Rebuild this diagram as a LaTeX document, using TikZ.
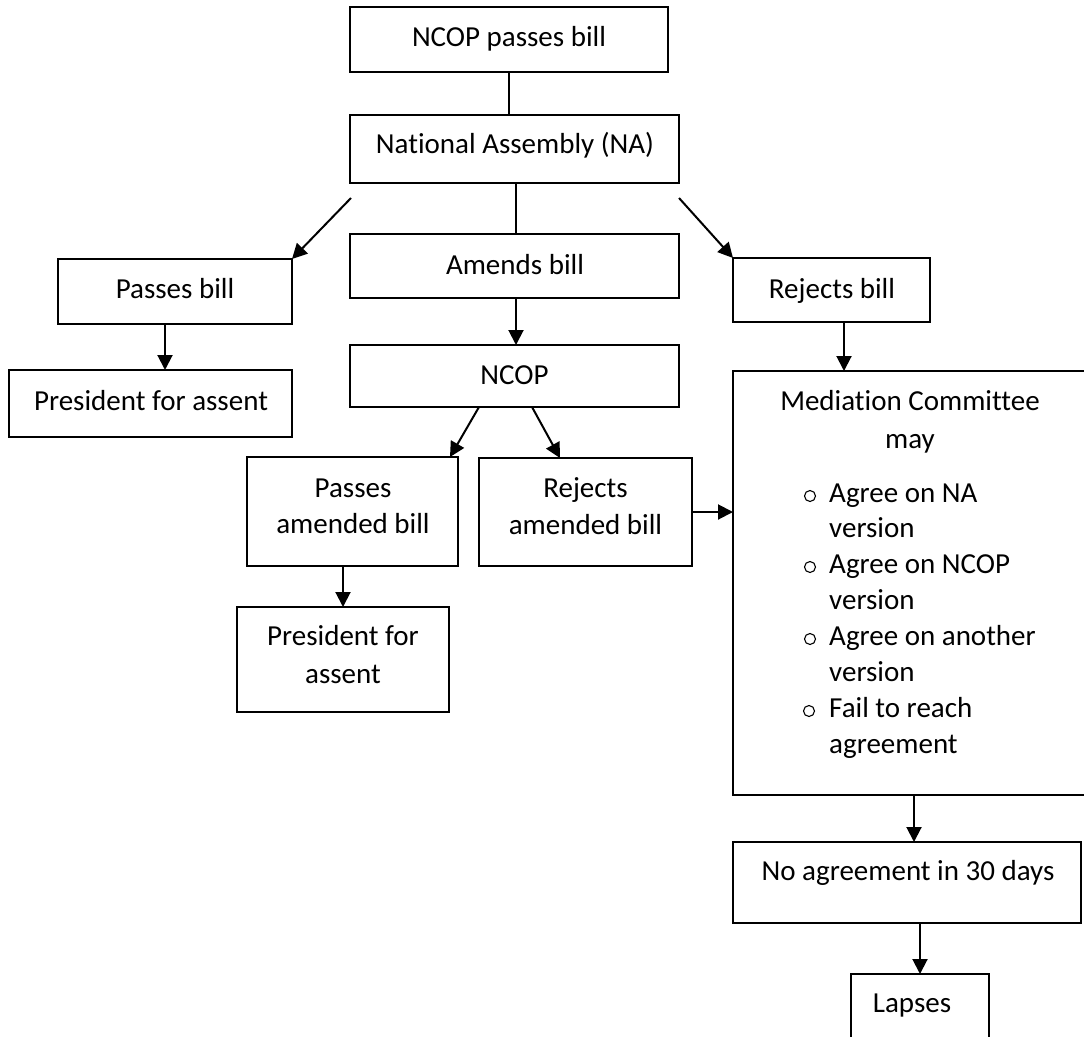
\documentclass[tikz,border=0pt]{standalone}
\usepackage{fontspec}
\setmainfont{Carlito}[Ligatures=NoCommon]
\usetikzlibrary{arrows.meta,calc}
\begin{document}
\begin{tikzpicture}[x=1pt,y=-1pt,
  box/.style={draw,line width=2pt,inner sep=0pt,outer sep=0pt,rectangle},
  txt/.style={inner sep=0pt,anchor=base,font=\fontsize{29}{36}\selectfont},
  ltxt/.style={txt,anchor=base west},
  conn/.style={line width=2pt},
  arr/.style={conn,-{Triangle[length=15pt,width=15pt]}},
  bul/.style={circle,draw,line width=1.1pt,minimum size=11pt,inner sep=0pt}]
\useasboundingbox (0,0) rectangle (1084,1036);
% boxes
\node[box,minimum width=318pt,minimum height=65pt] (top) at (509,39.5) {};
\node[box,minimum width=329pt,minimum height=68pt] (na) at (514.5,149) {};
\node[box,minimum width=329pt,minimum height=64pt] (amends) at (514.5,266) {};
\node[box,minimum width=234pt,minimum height=65pt] (passes) at (175,291.5) {};
\node[box,minimum width=283pt,minimum height=67pt] (pres1) at (150.5,403.5) {};
\node[box,minimum width=197pt,minimum height=64pt] (rejects) at (831.5,290) {};
\node[box,minimum width=329pt,minimum height=62pt] (ncop) at (514.5,376) {};
\node[box,minimum width=211pt,minimum height=109pt] (pab) at (352.5,511.5) {};
\node[box,minimum width=213pt,minimum height=108pt] (rab) at (585.5,512) {};
\node[box,minimum width=212pt,minimum height=105pt] (pres2) at (343,659.5) {};
\node[box,minimum width=362pt,minimum height=424pt] (med) at (914,583) {};
\node[box,minimum width=348pt,minimum height=81pt] (noagr) at (907,882.5) {};
\node[box,minimum width=138pt,minimum height=76pt] (lapses) at (920,1012) {};
% texts
\node[txt] (topT) at (509,46.7) {NCOP passes bill};
\node[txt] (naT) at (515,153) {National Assembly (NA)};
\node[txt] (amendsT) at (515,274) {Amends bill};
\node[txt] (passesT) at (175,298) {Passes bill};
\node[txt] (pres1T) at (151,410) {President for assent};
\node[txt] (rejectsT) at (832,298) {Rejects bill};
\node[txt] (ncopT) at (514.5,384) {NCOP};
\node[txt] (pabT1) at (353,497) {Passes};
\node[txt] (pabT2) at (353,533) {amended bill};
\node[txt] (rabT1) at (585.5,497) {Rejects};
\node[txt] (rabT2) at (585.5,534) {amended bill};
\node[txt] (pres2T1) at (343,645) {President for};
\node[txt] (pres2T2) at (343,683) {assent};
\node[txt] (medT1) at (910,410) {Mediation Committee};
\node[txt] (medT2) at (910,448) {may};
\node[bul] (b1) at (810,496) {};
\node[ltxt] (l1) at (829,502) {Agree on NA};
\node[ltxt] (l2) at (829,537) {version};
\node[bul] (b2) at (810,567) {};
\node[ltxt] (l3) at (829,573) {Agree on NCOP};
\node[ltxt] (l4) at (829,609) {version};
\node[bul] (b3) at (810,639) {};
\node[ltxt] (l5) at (829,645) {Agree on another};
\node[ltxt] (l6) at (829,681) {version};
\node[bul] (b4) at (809,711) {};
\node[ltxt] (l7) at (829,717) {Fail to reach};
\node[ltxt] (l8) at (829,753) {agreement};
\node[txt] (noagrT) at (908,880) {No agreement in 30 days};
\node[txt] (lapsesT) at (912,1012) {Lapses};
% connector end points
\coordinate (naL) at ($(na.south west)+(1,15)$);
\coordinate (naR) at ($(na.south east)+(0,15)$);
\coordinate (naS) at ($(na.south)+(1.5,0)$);
\coordinate (amS) at ($(amends.south)+(1.5,0)$);
\coordinate (passS) at ($(passes.south)+(-10,0)$);
\coordinate (ncopL) at ($(ncop.south west)+(129,0)$);
\coordinate (ncopR) at ($(ncop.south west)+(182,0)$);
\coordinate (pabN) at ($(pab.north east)+(-8,0)$);
\coordinate (rabN) at ($(rab.north west)+(81,0)$);
\coordinate (rejS) at ($(rejects.south)+(12.5,0)$);
% connectors
\draw[conn] (top.south) -- (top.south |- na.north);
\draw[conn] (naS) -- (naS |- amends.north);
\draw[arr] (naL) -- (passes.north east);
\draw[arr] (naR) -- (rejects.north west);
\draw[arr] (amS) -- (amS |- ncop.north);
\draw[arr] (passS) -- (passS |- pres1.north);
\draw[arr] (ncopL) -- (pabN);
\draw[arr] (ncopR) -- (rabN);
\draw[arr] (pres2.north |- pab.south) -- (pres2.north);
\draw[arr] (rab.east) -- (rab.east -| med.west);
\draw[arr] (rejS) -- (rejS |- med.north);
\draw[arr] (med.south) -- (med.south |- noagr.north);
\draw[arr] (lapses.north |- noagr.south) -- (lapses.north);
\end{tikzpicture}
\end{document}
